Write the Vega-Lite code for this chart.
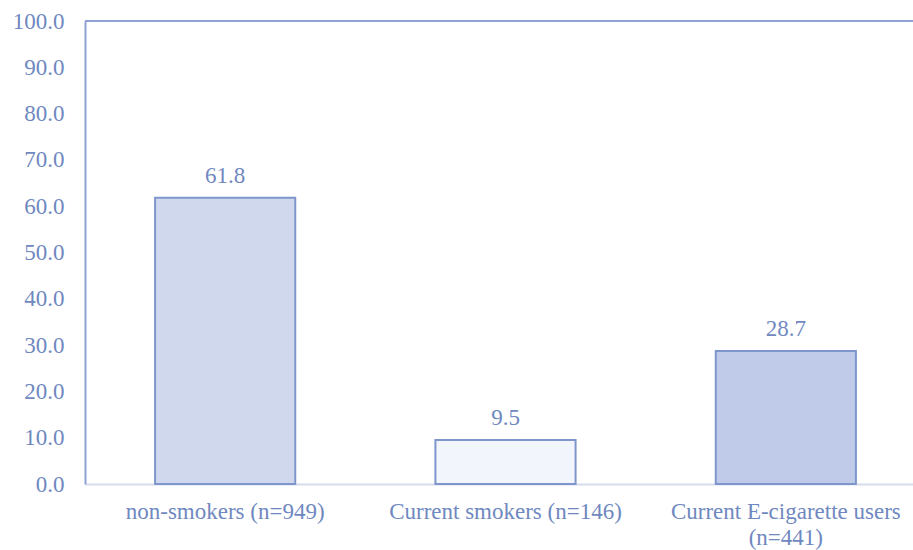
{
  "$schema": "https://vega.github.io/schema/vega-lite/v6.json",
  "width": 841,
  "height": 463,
  "autosize": {"type": "none"},
  "padding": {"left": 85, "top": 21, "right": 0, "bottom": 66},
  "background": "white",
  "config": {
    "view": {"stroke": null},
    "font": "'Liberation Serif', 'Times New Roman', serif"
  },
  "data": {
    "values": [
      {"group": "non-smokers (n=949)", "pct": 61.8},
      {"group": "Current smokers (n=146)", "pct": 9.5},
      {"group": "Current E-cigarette users (n=441)", "pct": 28.7}
    ]
  },
  "layer": [
    {
      "mark": {"type": "bar", "stroke": "#7F96CC", "strokeWidth": 2},
      "encoding": {
        "x": {
          "field": "group", "type": "nominal", "sort": null,
          "scale": {"paddingInner": 0.5, "paddingOuter": 0.25},
          "axis": {
            "title": null, "labelAngle": 0, "ticks": false,
            "domainColor": "#D6DCEC", "domainWidth": 2,
            "labelColor": "#6F88C0", "labelFontSize": 23, "labelFont": "'Liberation Serif', 'Times New Roman', serif",
            "labelPadding": 16, "labelLimit": 400, "labelLineHeight": 26,
            "labelExpr": "datum.value == 'Current E-cigarette users (n=441)' ? ['Current E-cigarette users', '(n=441)'] : datum.label"
          }
        },
        "y": {
          "field": "pct", "type": "quantitative",
          "scale": {"domain": [0, 100]},
          "axis": {
            "title": null, "values": [0,10,20,30,40,50,60,70,80,90,100], "format": ".1f",
            "grid": false, "ticks": false, "domainColor": "#8EA3D3", "domainWidth": 2,
            "labelColor": "#6F88C0", "labelFontSize": 23, "labelFont": "'Liberation Serif', 'Times New Roman', serif",
            "labelPadding": 21
          }
        },
        "fill": {
          "field": "group", "type": "nominal", "legend": null,
          "scale": {
            "domain": ["non-smokers (n=949)", "Current smokers (n=146)", "Current E-cigarette users (n=441)"],
            "range": ["#D0D8EE", "#F2F5FB", "#BFCBE8"]
          }
        }
      }
    },
    {
      "mark": {"type": "text", "dy": -22, "fontSize": 23, "color": "#6F88C0", "font": "'Liberation Serif', 'Times New Roman', serif"},
      "encoding": {
        "x": {"field": "group", "type": "nominal", "sort": null},
        "y": {"field": "pct", "type": "quantitative"},
        "text": {"field": "pct", "type": "quantitative", "format": ".1f"}
      }
    },
    {
      "mark": {"type": "rule", "color": "#8EA3D3", "strokeWidth": 2},
      "encoding": {"y": {"datum": 100}}
    }
  ]
}
